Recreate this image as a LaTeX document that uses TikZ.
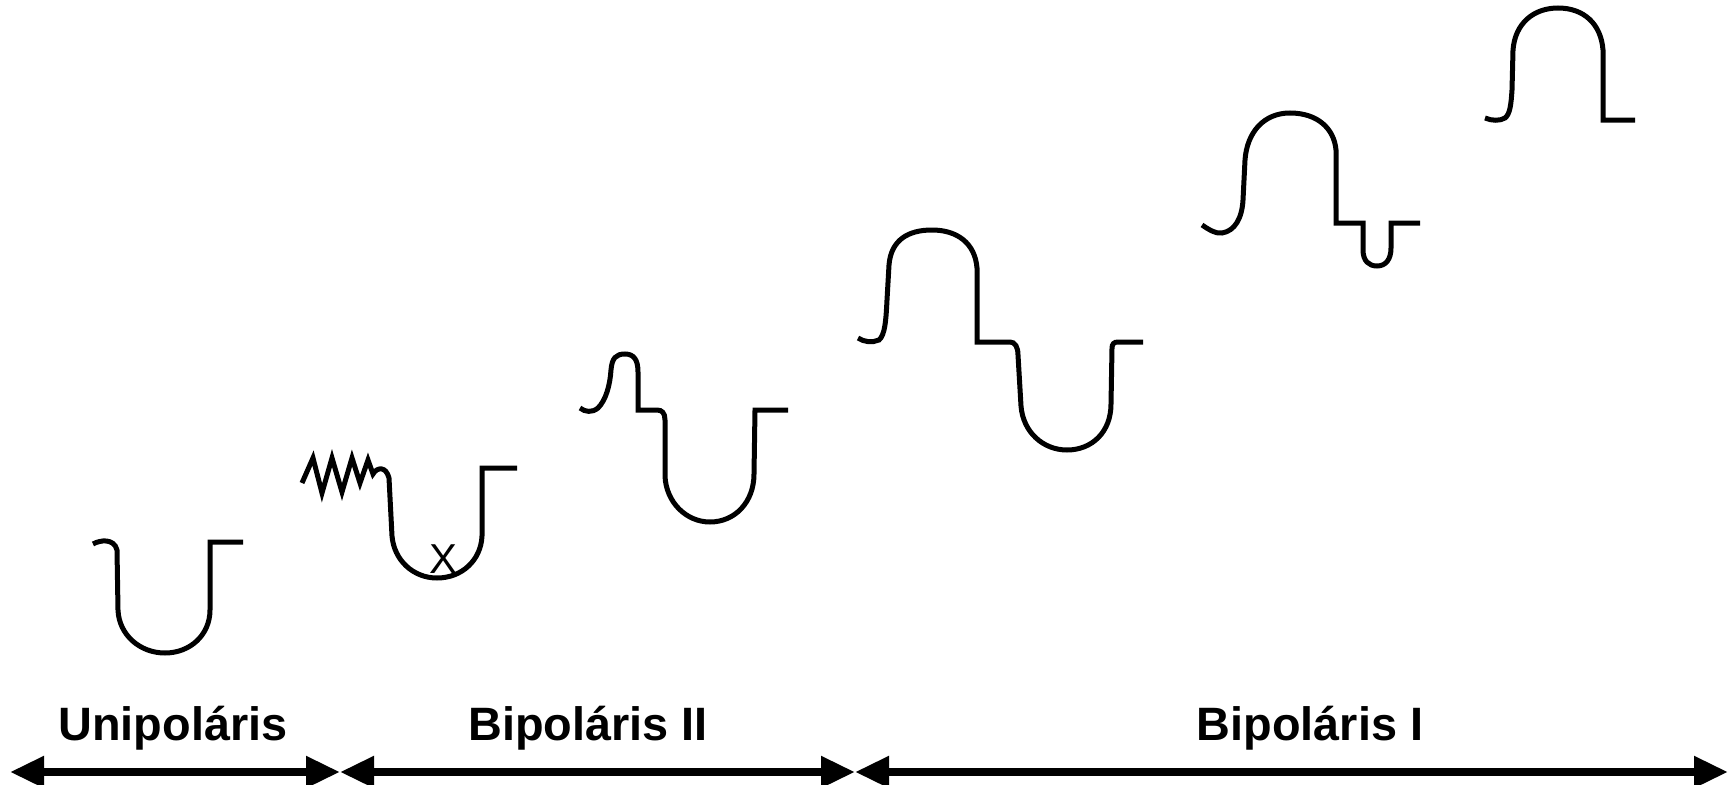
\documentclass[tikz,border=0pt]{standalone}
\usepackage{fontspec}
\setmainfont{Liberation Sans}
\usepackage{tikz}
\usetikzlibrary{arrows.meta}

\begin{document}
\begin{tikzpicture}[x=1bp, y=-1bp, >={Triangle[length=34bp,width=30bp]},
  wave/.style={line width=5bp},
  span/.style={line width=8bp, <->},
  tag/.style={font=\fontsize{47}{56}\selectfont\bfseries, anchor=base, inner sep=0pt}]
  \useasboundingbox (0,0) rectangle (1736,785);

  % Waves
  % unipolar
  \draw[wave] (93,544) .. controls (100,540) and (114,538) .. (117,550) -- (118,610)
    .. controls (119,635) and (140,653) .. (165,653) .. controls (190,653) and (210,635) .. (210,610)
    -- (210,542) -- (243,542);
  % bipolar II, mixed
  \draw[wave] (302,483) -- (313,458) -- (322,493) -- (332,458) -- (342,492) -- (352,458)
    -- (360,483) -- (368,460) -- (373,474) .. controls (377,467) and (386,466) .. (389,478)
    -- (392,536) .. controls (394,560) and (413,578) .. (437,578) .. controls (462,578) and (481,560) .. (482,536)
    -- (482,468) -- (517,468);
  \node (mixed) at (443,573) [font=\fontsize{42}{48}\selectfont, anchor=base, inner sep=0pt] {X};
  % bipolar II
  \draw[wave] (580,408) .. controls (585,412) and (592,413) .. (598,408) .. controls (606,400) and (610,385) .. (611,370)
    .. controls (612,358) and (616,354) .. (625,354) .. controls (634,354) and (638,360) .. (638,372)
    -- (638,410) -- (657,410) .. controls (662,410) and (665,413) .. (665,420) -- (665,476)
    .. controls (666,502) and (686,522) .. (710,522) .. controls (735,522) and (754,502) .. (754,474)
    -- (755,410) -- (788,410);
  % bipolar I
  \draw[wave] (858,338) .. controls (864,342) and (872,343) .. (879,340) .. controls (885,335) and (886,320) .. (887,300)
    -- (889,265) .. controls (891,240) and (908,230) .. (932,230) .. controls (957,230) and (975,243) .. (977,268)
    -- (977,342) -- (1010,342) .. controls (1015,342) and (1018,347) .. (1018,355) -- (1021,406)
    .. controls (1023,432) and (1043,450) .. (1067,450) .. controls (1092,450) and (1111,432) .. (1111,404)
    -- (1112,348) .. controls (1112,344) and (1114,342) .. (1118,342) -- (1143,342);
  \draw[wave] (1202,225) .. controls (1208,229) and (1215,234) .. (1222,233) .. controls (1235,231) and (1242,218) .. (1243,200)
    -- (1245,160) .. controls (1247,132) and (1264,113) .. (1290,113) .. controls (1317,113) and (1334,128) .. (1336,150)
    -- (1336,223) -- (1363,223) -- (1363,250) .. controls (1363,261) and (1369,266) .. (1377,266)
    .. controls (1386,266) and (1391,259) .. (1391,248) -- (1391,223) -- (1420,223);
  \draw[wave] (1485,118) .. controls (1492,121) and (1500,121) .. (1505,118) .. controls (1510,114) and (1511,105) .. (1512,90)
    -- (1513,50) .. controls (1515,23) and (1534,8) .. (1558,8) .. controls (1584,8) and (1601,24) .. (1603,50)
    -- (1603,120) -- (1635,120);

  % Labels
  \node (uni) at (173,740) [tag] {Unipoláris};
  \node (bitwo) at (588,740) [tag] {Bipoláris II};
  \node (bione) at (1310,740) [tag] {Bipoláris I};

  % Spans
  \coordinate (left) at (10,772);
  \coordinate (cut1) at (340,772);
  \coordinate (cut2) at (855,772);
  \coordinate (right) at (1728,772);
  \draw[span] (left) -- (cut1);
  \draw[span] (cut1) -- (cut2);
  \draw[span] (cut2) -- (right);
\end{tikzpicture}
\end{document}
